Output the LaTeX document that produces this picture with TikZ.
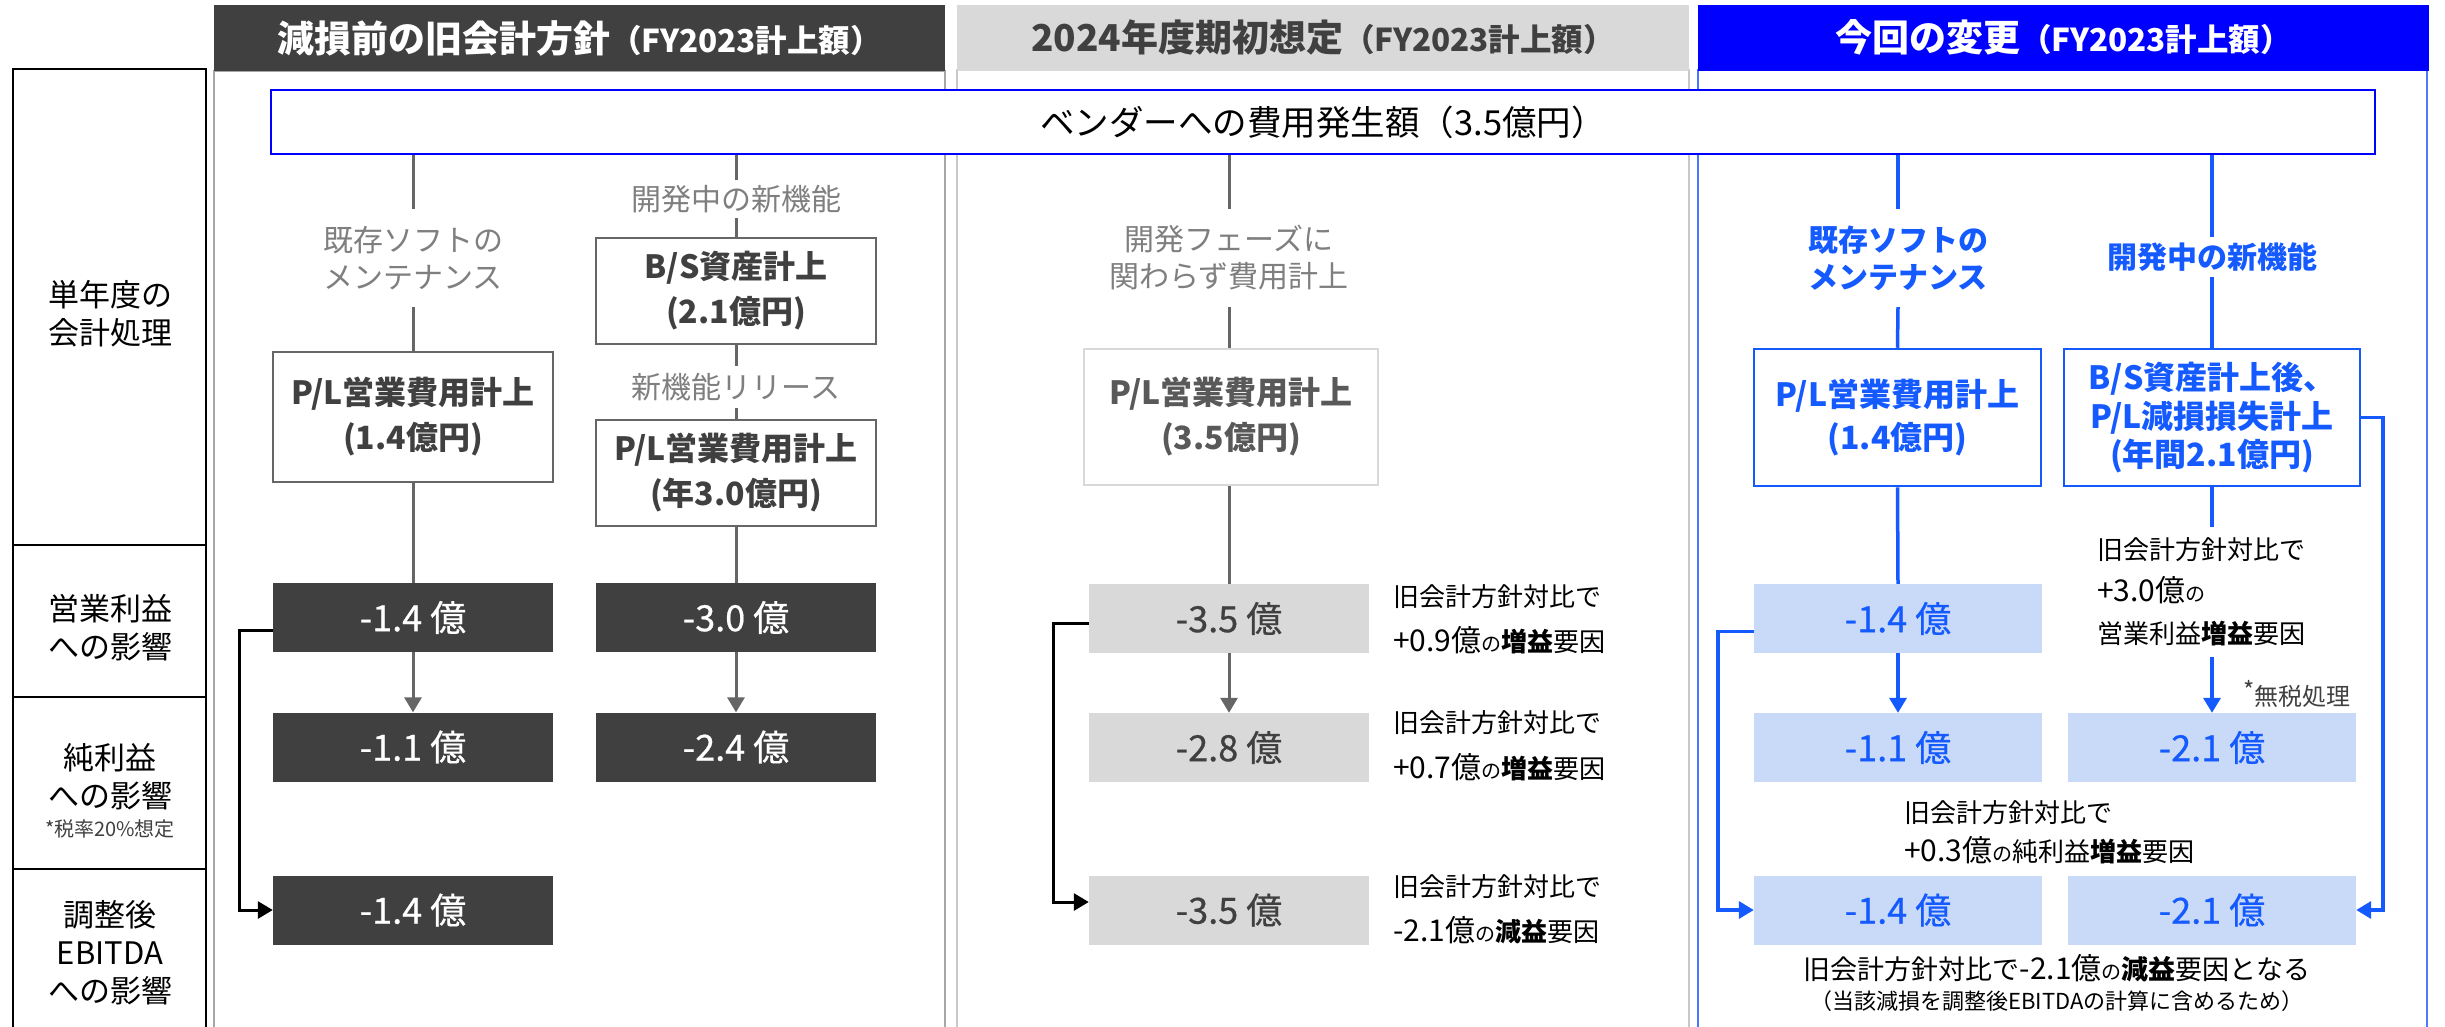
\documentclass[tikz,border=0pt]{standalone}
\usepackage{fontspec}
\setmainfont{Noto Sans CJK JP}
\newfontfamily\valfont[FakeBold=0.6]{Noto Sans CJK JP}
\usetikzlibrary{arrows.meta,calc}
\definecolor{darkfill}{HTML}{404040}
\definecolor{lgfill}{HTML}{D9D9D9}
\definecolor{hblue}{HTML}{0000FF}
\definecolor{lblue}{HTML}{145AFF}
\definecolor{lbfill}{HTML}{C9DAF8}
\definecolor{txgray}{HTML}{7F7F7F}
\definecolor{lngray}{HTML}{666666}
\definecolor{fgray}{HTML}{A6A6A6}
\definecolor{fgray2}{HTML}{C8C8C8}
\definecolor{fblue}{HTML}{4A78FF}
\definecolor{b2text}{HTML}{595959}
\newcommand{\hbigfs}{\fontsize{37}{40}\selectfont}
\newcommand{\hsmallfs}{\fontsize{31.5}{40}\selectfont}
\newcommand{\anum}[1]{{\fontsize{30}{30}\selectfont #1}}
\newcommand{\ano}[1]{{\fontsize{20}{20}\selectfont #1}}
\tikzset{
  every node/.style={inner sep=0pt},
  hdr/.style={minimum width=731pt, minimum height=66pt, font=\bfseries},
  rowbox/.style={draw=black, line width=2pt},
  rowlbl/.style={align=center, font=\fontsize{31}{38}\selectfont},
  valbox/.style={minimum width=280pt, minimum height=69pt, align=center, font=\valfont\fontsize{36}{40}\selectfont},
  dbox/.style={valbox, fill=darkfill, text=white},
  gbox/.style={valbox, fill=lgfill, text=darkfill},
  bbox/.style={valbox, fill=lbfill, text=lblue, minimum width=288pt},
  acct/.style={draw=lngray, line width=2pt, minimum width=280pt, align=center, text=darkfill, font=\bfseries\fontsize{32}{45}\selectfont},
  gline/.style={draw=lngray, line width=3pt},
  bline/.style={draw=lblue, line width=3.5pt},
  kline/.style={draw=black, line width=3pt},
  arr/.style={-{Triangle[width=17pt,length=15pt]}},
  lbl/.style={text=txgray, align=center, font=\fontsize{30}{37}\selectfont},
  blbl/.style={text=lblue, align=center, font=\bfseries\fontsize{30}{37}\selectfont},
  ann/.style={anchor=west, align=left, font=\fontsize{26}{42}\selectfont},
}
\begin{document}
\begin{tikzpicture}[x=1pt,y=-1pt]
\useasboundingbox (0,0) rectangle (2445,1026);
\fill[white] (0,0) rectangle (2445,1026);

% row label column
\draw[rowbox] (13,69) rectangle (206,545);
\draw[rowbox] (13,545) rectangle (206,697);
\draw[rowbox] (13,697) rectangle (206,869);
\draw[rowbox] (13,869) rectangle (206,1040);
\node[rowlbl] (r1) at (110,314) {単年度の\\会計処理};
\node[rowlbl] (r2) at (110,628) {営業利益\\への影響};
\node[rowlbl] (r3) at (110,777) {純利益\\への影響};
\node[font=\fontsize{20}{20}\selectfont, text=darkfill] (r3n) at (110,829) {*税率20\%想定};
\node[rowlbl] (r4) at (110,953) {調整後\\EBITDA\\への影響};

% column frames
\draw[fgray, line width=1.5pt] (214,1040) -- (214,71) -- (945,71) -- (945,1040);
\draw[fgray2, line width=1.5pt] (957,1040) -- (957,70) -- (1689,70) -- (1689,1040);
\draw[fblue, line width=1.5pt] (1698,1040) -- (1698,70) -- (2427,70) -- (2427,1040);

% headers
\node[hdr, fill=darkfill, text=white] (h1) at (579.5,38) {\hbigfs 減損前の旧会計方針\hsmallfs （FY2023計上額）};
\node[hdr, fill=lgfill, text=darkfill, minimum width=732pt] (h2) at (1323,37.5) {\hbigfs 2024年度期初想定\hsmallfs （FY2023計上額）};
\node[hdr, fill=hblue, text=white] (h3) at (2063.5,37.5) {\hbigfs 今回の変更\hsmallfs （FY2023計上額）};

% vendor box
\node[draw=hblue, fill=white, line width=2.5pt, minimum width=2104pt, minimum height=64pt, font=\fontsize{34.5}{40}\selectfont] (vendor) at (1323,122) {ベンダーへの費用発生額（3.5億円）};

% ---------- column 1 ----------
\node[lbl, minimum height=98pt] (t1a) at (413,258) {既存ソフトの\\メンテナンス};
\node[acct, minimum height=130pt] (b1a) at (413,417) {P/L営業費用計上\\(1.4億円)};
\node[dbox] (d1op) at (413,617.5) {-1.4 億};
\node[dbox] (d1np) at (413,747) {-1.1 億};
\node[dbox] (d1eb) at (413,910) {-1.4 億};

\node[lbl, minimum height=38pt] (t1b) at (736,199) {開発中の新機能};
\node[acct, minimum height=106pt] (b1b) at (736,291) {B/S資産計上\\(2.1億円)};
\node[lbl, minimum height=41pt] (t1c) at (736,387) {新機能リリース};
\node[acct, minimum height=106pt] (b1c) at (736,473) {P/L営業費用計上\\(年3.0億円)};
\node[dbox] (d1bop) at (736,617.5) {-3.0 億};
\node[dbox] (d1bnp) at (736,747) {-2.4 億};

\draw[gline] (vendor.south -| t1a) -- (t1a.north);
\draw[gline] (t1a.south) -- (b1a.north);
\draw[gline] (b1a.south) -- (d1op.north);
\draw[gline, arr] (d1op.south) -- (d1np.north);
\draw[gline] (vendor.south -| t1b) -- (t1b.north);
\draw[gline] (t1b.south) -- (b1b.north);
\draw[gline] (b1b.south) -- (t1c.north);
\draw[gline] (t1c.south) -- (b1c.north);
\draw[gline] (b1c.south) -- (d1bop.north);
\draw[gline, arr] (d1bop.south) -- (d1bnp.north);
\coordinate (k1) at (239,0);
\draw[kline, arr] ([yshift=-13pt]d1op.west) -- ([yshift=-13pt]d1op.west -| k1) -- (d1eb.west -| k1) -- (d1eb.west);

% ---------- column 2 ----------
\node[lbl, minimum height=98pt] (t2a) at (1229,258) {開発フェーズに\\関わらず費用計上};
\node[acct, draw=lgfill, text=b2text, minimum width=294pt, minimum height=136pt] (b2a) at (1231,417) {P/L営業費用計上\\(3.5億円)};
\node[gbox] (d2op) at (1229,618.5) {-3.5 億};
\node[gbox] (d2np) at (1229,747.5) {-2.8 億};
\node[gbox] (d2eb) at (1229,910) {-3.5 億};
\draw[gline] (vendor.south -| t2a) -- (t2a.north);
\draw[gline] (t2a.south) -- (t2a.south |- b2a.north);
\draw[gline] (t2a.south |- b2a.south) -- (d2op.north);
\draw[gline, arr] (d2op.south) -- (d2np.north);
\coordinate (k2) at (1053,0);
\draw[kline, arr] ([yshift=-5pt]d2op.west) -- ([yshift=-5pt]d2op.west -| k2) -- ([yshift=8pt]d2eb.west -| k2) -- ([yshift=8pt]d2eb.west);

\node[ann] (n2a) at (1393,597) {旧会計方針対比で};
\node[ann] (n2b) at (1393,640) {\anum{+0.9億}\ano{の}\textbf{増益}要因};
\node[ann] (n2c) at (1393,723) {旧会計方針対比で};
\node[ann] (n2d) at (1393,767) {\anum{+0.7億}\ano{の}\textbf{増益}要因};
\node[ann] (n2e) at (1393,887) {旧会計方針対比で};
\node[ann] (n2f) at (1393,930) {\anum{-2.1億}\ano{の}\textbf{減益}要因};

% ---------- column 3 ----------
\node[blbl, minimum height=98pt] (t3a) at (1898,258) {既存ソフトの\\メンテナンス};
\node[acct, draw=lblue, line width=2.5pt, text=lblue, minimum width=287pt, minimum height=137pt, font=\bfseries\fontsize{32}{43}\selectfont] (b3a) at (1897.5,417.5) {P/L営業費用計上\\(1.4億円)};
\node[bbox] (d3op) at (1898,618.5) {-1.4 億};
\node[bbox] (d3np) at (1898,747.5) {-1.1 億};
\node[bbox] (d3eb) at (1898,910) {-1.4 億};

\node[blbl, minimum height=40pt] (t3b) at (2212,257) {開発中の新機能};
\node[acct, draw=lblue, line width=2.5pt, text=lblue, minimum width=296pt, minimum height=137pt, font=\bfseries\fontsize{32}{38.5}\selectfont] (b3b) at (2212,417.5) {B/S資産計上後、\\P/L減損損失計上\\(年間2.1億円)};
\node[ann, anchor=north west, minimum height=130pt] (a3a) at (2097,527) {旧会計方針対比で\\\anum{+3.0億}\ano{の}\\営業利益\textbf{増益}要因};
\node[bbox] (d3bnp) at (2212,747.5) {-2.1 億};
\node[bbox] (d3beb) at (2212,910) {-2.1 億};
\node[anchor=west, text=darkfill, font=\fontsize{24}{24}\selectfont] (tax) at (2243,694) {\raisebox{6pt}{*}無税処理};

\draw[bline] (vendor.south -| t3a) -- (t3a.north);
\draw[bline] (t3a.south) -- (b3a.north);
\draw[bline] (b3a.south) -- (d3op.north);
\draw[bline, arr] (d3op.south) -- (d3np.north);
\draw[bline] (vendor.south -| t3b) -- (t3b.north);
\draw[bline] (t3b.south) -- (b3b.north);
\draw[bline] (b3b.south) -- (b3b.south |- a3a.north);
\draw[bline, arr] (b3b.south |- a3a.south) -- (d3bnp.north);
\coordinate (k3) at (1718,0);
\draw[bline, arr] ([yshift=-13pt]d3op.west) -- ([yshift=-13pt]d3op.west -| k3) -- (d3eb.west -| k3) -- (d3eb.west);
\coordinate (k4) at (2383,0);
\draw[bline, arr] (b3b.east) -- (b3b.east -| k4) -- (d3beb.east -| k4) -- (d3beb.east);

\node[ann] (n3a) at (1904,813) {旧会計方針対比で};
\node[ann] (n3b) at (1904,850) {\anum{+0.3億}\ano{の}純利益\textbf{増益}要因};
\node[font=\fontsize{27}{30}\selectfont] (n3c) at (2057,968) {旧会計方針対比で\anum{-2.1億}\ano{の}\textbf{減益}要因となる};
\node[font=\fontsize{22}{26}\selectfont] (n3d) at (2057,1001) {（当該減損を調整後EBITDAの計算に含めるため）};
\end{tikzpicture}
\end{document}
